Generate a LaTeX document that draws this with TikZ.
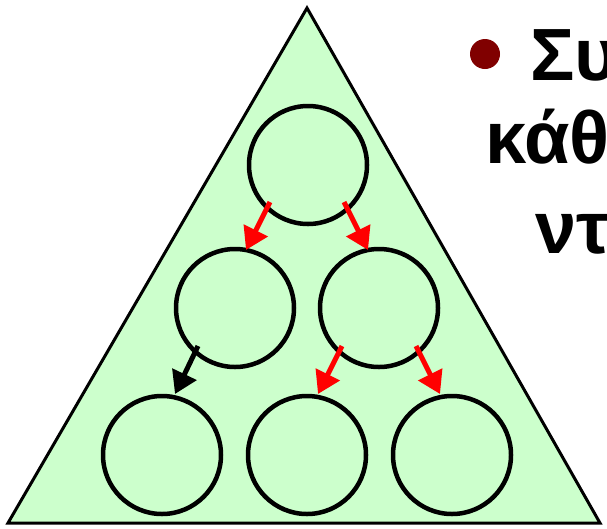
\documentclass[tikz,border=0pt]{standalone}
\usepackage{fontspec}
\setmainfont{Liberation Sans}
\usetikzlibrary{arrows.meta}
\definecolor{trifill}{HTML}{CCFFCC}
\definecolor{bulletred}{HTML}{800000}
\definecolor{arrred}{HTML}{FF0000}
\begin{document}
\begin{tikzpicture}[x=1pt,y=-1pt,
  circ/.style={circle,draw=black,line width=4.5pt,minimum size=118pt,inner sep=0pt},
  arr/.style={line width=5pt,-{Triangle[length=22pt,width=26pt]}},
  txt/.style={anchor=base west,inner sep=0pt,font=\fontsize{74}{82}\selectfont\bfseries}]
\useasboundingbox (0,0) rectangle (607,528);
\clip (0,0) rectangle (607,528);
\draw[fill=trifill,line width=3pt,line join=miter] (307,8) -- (600,523) -- (8,523) -- cycle;
\node[circ] (c1) at (308,165) {};
\node[circ] (c2) at (235,308) {};
\node[circ] (c3) at (379,308) {};
\node[circ] (c4) at (162,455) {};
\node[circ] (c5) at (307,455) {};
\node[circ] (c6) at (452,455) {};
\coordinate (a1s) at (270,202);
\coordinate (a1e) at (246,250);
\coordinate (a2s) at (344,202);
\coordinate (a2e) at (368,250);
\coordinate (a3s) at (198,346);
\coordinate (a3e) at (175,394);
\coordinate (a4s) at (342,346);
\coordinate (a4e) at (318,394);
\coordinate (a5s) at (416,346);
\coordinate (a5e) at (440,394);
\draw[arr,arrred] (a1s) -- (a1e);
\draw[arr,arrred] (a2s) -- (a2e);
\draw[arr,black] (a3s) -- (a3e);
\draw[arr,arrred] (a4s) -- (a4e);
\draw[arr,arrred] (a5s) -- (a5e);
\node[circle,fill=bulletred,minimum size=30pt,inner sep=0pt] (bul) at (485,54) {};
\node[txt] (t1) at (530,80) {Συ};
\node[txt] (t2) at (485,163) {κάθ};
\node[txt] (t3) at (535,253) {ντ};
\end{tikzpicture}
\end{document}
